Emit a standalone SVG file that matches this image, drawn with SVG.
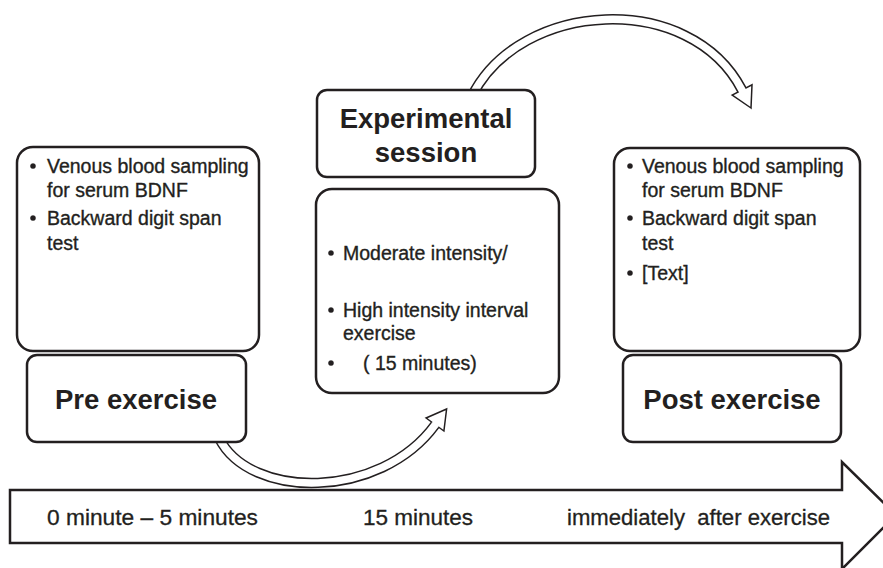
<svg xmlns="http://www.w3.org/2000/svg" width="883" height="568" viewBox="0 0 883 568">
<style>
.box{fill:#fff;stroke:#231f20;stroke-width:2.5}
.t{font-family:"Liberation Sans",Arial,sans-serif;fill:#231f20}
.b{font-size:19.5px;stroke:#231f20;stroke-width:0.35}
.h{font-size:27.5px;font-weight:bold;text-anchor:middle}
.tl{font-size:22px;stroke:#231f20;stroke-width:0.3}
.sk{fill:none;stroke:#231f20;stroke-width:10.5}
.sw{fill:none;stroke:#fff;stroke-width:7.5}
.hd{fill:#fff;stroke:#231f20;stroke-width:1.5;stroke-linejoin:miter}
</style>
<rect width="883" height="568" fill="#fff"/>
<g id="connectors">
  <g id="timeline">
    <polygon class="box" points="10,490 842,490 842,462 896,515 842,569 842,543 10,543"/>
  </g>
  <g id="arrow-pre-to-session">
    <path class="sk" d="M219,438 C250,500 380,500 435,425"/>
    <polygon class="hd" points="446.6,409 426.1,418 443.9,431"/>
    <path class="sw" d="M219,438 C250,500 380,500 435,425 L436.5,423"/>
  </g>
  <g id="arrow-session-to-post">
    <path class="sk" d="M472,96 C520,0 690,-10 742,90"/>
    <polygon class="hd" points="751,108 732.2,95 752,84.8"/>
    <path class="sw" d="M472,96 C520,0 690,-10 742,90 L743.2,92.3"/>
  </g>
</g>
<g id="pre-details">
  <rect class="box" x="17" y="147" width="242" height="204" rx="16"/>
  <g class="t b">
    <circle cx="33" cy="166" r="2.6" fill="#231f20"/>
    <text x="47" y="173">Venous blood sampling</text>
    <text x="47" y="197">for serum BDNF</text>
    <circle cx="33" cy="218" r="2.6" fill="#231f20"/>
    <text x="47" y="225">Backward digit span</text>
    <text x="47" y="250">test</text>
  </g>
</g>
<g id="pre-exercise">
  <rect class="box" x="27" y="355" width="219" height="87" rx="10"/>
  <text class="t h" x="136" y="409">Pre exercise</text>
</g>
<g id="session-title">
  <rect class="box" x="317" y="90" width="218" height="87" rx="10"/>
  <text class="t h" x="426" y="128">Experimental</text>
  <text class="t h" x="426" y="162">session</text>
</g>
<g id="session-details">
  <rect class="box" x="316" y="189" width="243" height="204" rx="16"/>
  <g class="t b">
    <circle cx="331" cy="253" r="2.6" fill="#231f20"/>
    <text x="343" y="260">Moderate intensity/</text>
    <circle cx="331" cy="310" r="2.6" fill="#231f20"/>
    <text x="343" y="317">High intensity interval</text>
    <text x="343" y="340">exercise</text>
    <circle cx="331" cy="363" r="2.6" fill="#231f20"/>
    <text x="363" y="370">( 15 minutes)</text>
  </g>
</g>
<g id="post-details">
  <rect class="box" x="614" y="148" width="246" height="203" rx="16"/>
  <g class="t b">
    <circle cx="630" cy="166" r="2.6" fill="#231f20"/>
    <text x="642" y="173">Venous blood sampling</text>
    <text x="642" y="197">for serum BDNF</text>
    <circle cx="630" cy="218" r="2.6" fill="#231f20"/>
    <text x="642" y="225">Backward digit span</text>
    <text x="642" y="250">test</text>
    <circle cx="630" cy="273" r="2.6" fill="#231f20"/>
    <text x="642" y="280">[Text]</text>
  </g>
</g>
<g id="post-exercise">
  <rect class="box" x="623" y="355" width="218" height="87" rx="10"/>
  <text class="t h" x="732" y="409">Post exercise</text>
</g>
<g id="timeline-labels" class="t tl">
  <text x="47" y="525" textLength="211" lengthAdjust="spacingAndGlyphs">0 minute – 5 minutes</text>
  <text x="363" y="525" textLength="110" lengthAdjust="spacingAndGlyphs">15 minutes</text>
  <text x="567" y="525" textLength="263" lengthAdjust="spacingAndGlyphs" xml:space="preserve">immediately  after exercise</text>
</g>
</svg>
